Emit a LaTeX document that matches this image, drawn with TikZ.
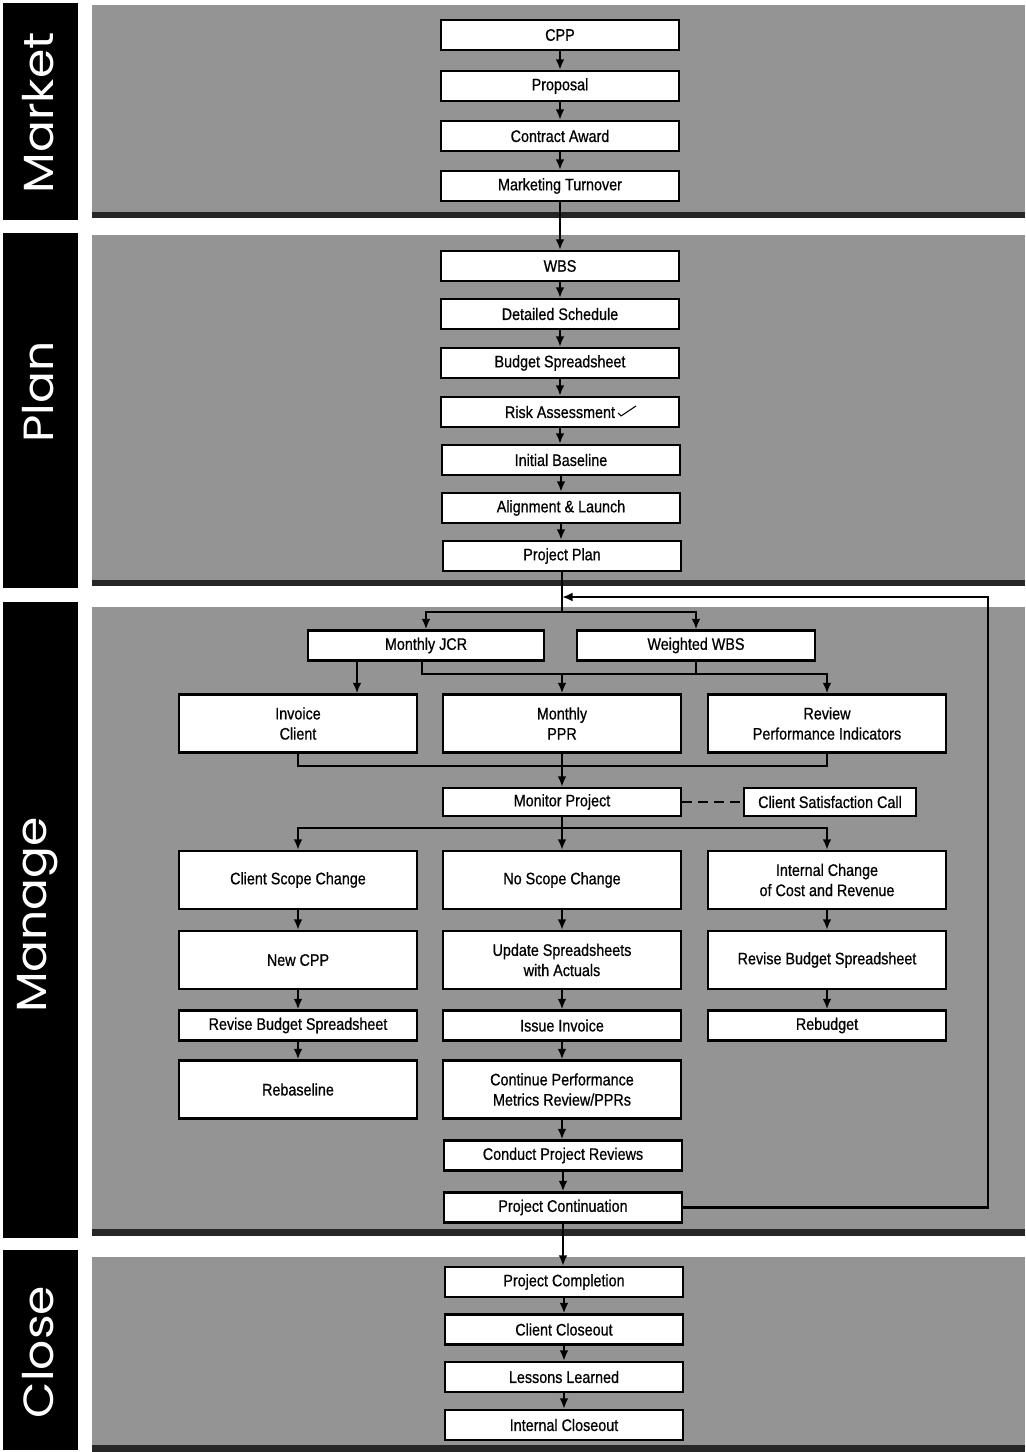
\documentclass[tikz,border=0pt]{standalone}
\usepackage{fontspec}
\setmainfont{Liberation Sans}[FakeStretch=0.86]
\newfontfamily\boxfont{Liberation Sans}[FakeStretch=0.86, FakeBold=0.7]
\newfontfamily\tagfont{Poppins}[FakeStretch=1.12]
\usetikzlibrary{arrows.meta}

\tikzset{
  box/.style={draw, line width=1.3pt, fill=white, minimum width=4.76cm, minimum height=0.6cm,
    inner sep=1pt, align=center, font=\boxfont\fontsize{9.5}{11.5}\selectfont},
  tallbox/.style={box, minimum height=1.16cm},
  panel/.style={fill=black!42},
  rim/.style={fill=black!85},
  tag/.style={fill=black},
  tagtext/.style={rotate=90, text=white, inner sep=0pt, font=\tagfont\fontsize{24}{24}\selectfont},
  wire/.style={line width=1.3pt},
  arr/.style={wire, -{Latex[length=6pt,width=5pt]}}
}

\begin{document}
\begin{tikzpicture}[x=0.02cm, y=-0.02cm]
\useasboundingbox (0,0) rectangle (1025,1452);
% draws bands
\fill[panel] (92,5) rectangle (1025,218);
\fill[rim] (92,212) rectangle (1025,218);
\fill[panel] (92,235) rectangle (1025,586);
\fill[rim] (92,580) rectangle (1025,586);
\fill[panel] (92,607) rectangle (1025,1236);
\fill[rim] (92,1229) rectangle (1025,1236);
\fill[panel] (92,1257) rectangle (1025,1452);
\fill[rim] (92,1445) rectangle (1025,1452);
% draws phase tags
\fill[tag] (3,3) rectangle (78,220);
\fill[tag] (3,233) rectangle (78,588);
\fill[tag] (3,602) rectangle (78,1238);
\fill[tag] (3,1250) rectangle (78,1450);
\node[tagtext] (tmarket) at (38,113) {Market};
\node[tagtext] (tplan) at (38,392) {Plan};
\node[tagtext] (tmanage) at (38,915) {Manage};
\node[tagtext] (tclose) at (38,1352) {Close};
% market
\node[box] (cpp) at (560,35) {CPP};
\node[box] (prop) at (560,86) {Proposal};
\node[box] (award) at (560,136) {Contract Award};
\node[box] (turn) at (560,186) {Marketing Turnover};
% plan
\node[box] (wbs) at (560,266) {WBS};
\node[box] (sched) at (560,314) {Detailed Schedule};
\node[box] (budget) at (560,363) {Budget Spreadsheet};
\node[box] (risk) at (560,412) {Risk Assessment};
\node[box] (base) at (561,460) {Initial Baseline};
\node[box] (launch) at (561,508) {Alignment \& Launch};
\node[box] (plan) at (562,556) {Project Plan};
\draw[line width=0.6pt] (618,413) -- (621,416) -- (636,406);
% manage
\node[box, minimum width=4.72cm] (jcr) at (426,645.5) {Monthly JCR};
\node[box] (wwbs) at (696,645.5) {Weighted WBS};
\node[tallbox] (inv) at (298,723.5) {Invoice\\Client};
\node[tallbox] (ppr) at (562,723.5) {Monthly\\PPR};
\node[tallbox] (rpi) at (827,723.5) {Review\\Performance Indicators};
\node[box, minimum height=0.56cm] (mon) at (562,802) {Monitor Project};
\node[box, minimum width=3.44cm, minimum height=0.56cm] (sat) at (830,802) {Client Satisfaction Call};
\node[tallbox] (csc) at (298,880) {Client Scope Change};
\node[tallbox] (nsc) at (562,880) {No Scope Change};
\node[tallbox] (icc) at (827,880) {Internal Change\\of Cost and Revenue};
\node[tallbox] (ncpp) at (298,960) {New CPP};
\node[tallbox] (upd) at (562,960) {Update Spreadsheets\\with Actuals};
\node[tallbox] (rbsr) at (827,960) {Revise Budget Spreadsheet};
\node[box] (rbsl) at (298,1025.5) {Revise Budget Spreadsheet};
\node[box] (issue) at (562,1025.5) {Issue Invoice};
\node[box] (rebud) at (827,1025.5) {Rebudget};
\node[tallbox] (rebase) at (298,1089.5) {Rebaseline};
\node[tallbox] (cont) at (562,1089.5) {Continue Performance\\Metrics Review/PPRs};
\node[box] (review) at (563,1155.5) {Conduct Project Reviews};
\node[box] (pcont) at (563,1207.5) {Project Continuation};
% close
\node[box] (pcomp) at (564,1282) {Project Completion};
\node[box] (cclose) at (564,1329.5) {Client Closeout};
\node[box] (lessons) at (564,1377) {Lessons Learned};
\node[box] (iclose) at (564,1425) {Internal Closeout};
% helper points
\coordinate (loop) at (988,597);
\coordinate (merge) at (562,597);
\coordinate (fork) at (562,612);
\coordinate (tap) at (357,0);
\coordinate (bus1) at (422,674);
\coordinate (bus2) at (298,766);
\coordinate (bus3) at (562,828);
% draws market and plan chain
\draw[arr] (cpp.south) -- (cpp.south |- prop.north);
\draw[arr] (prop.south) -- (prop.south |- award.north);
\draw[arr] (award.south) -- (award.south |- turn.north);
\draw[arr] (turn.south) -- (turn.south |- wbs.north);
\draw[arr] (wbs.south) -- (wbs.south |- sched.north);
\draw[arr] (sched.south) -- (sched.south |- budget.north);
\draw[arr] (budget.south) -- (budget.south |- risk.north);
\draw[arr] (risk.south) -- (risk.south |- base.north);
\draw[arr] (base.south) -- (base.south |- launch.north);
\draw[arr] (launch.south) -- (launch.south |- plan.north);
% draws monthly loop
\draw[wire] (plan.south) -- (fork);
\draw[arr] (fork) -| (jcr.north);
\draw[arr] (fork) -| (wwbs.north);
\draw[arr] (pcont.east) -| (loop) -- (merge);
\draw[arr] (jcr.south -| tap) -- (inv.north -| tap);
\draw[arr] (jcr.south -| bus1) |- (rpi.north |- bus1) -- (rpi.north);
\draw[wire] (wwbs.south) -- (wwbs.south |- bus1);
\draw[arr] (ppr.north |- bus1) -- (ppr.north);
\draw[wire] (inv.south) |- (rpi.south |- bus2) -- (rpi.south);
\draw[arr] (ppr.south) -- (mon.north);
\draw[wire, dash pattern=on 0.2cm off 0.12cm] (mon.east) -- (sat.west);
\draw[wire] (mon.south) -- (bus3);
\draw[arr] (bus3) -| (csc.north);
\draw[arr] (bus3) -- (nsc.north);
\draw[arr] (bus3) -| (icc.north);
% draws columns
\draw[arr] (csc) -- (ncpp);
\draw[arr] (ncpp) -- (rbsl);
\draw[arr] (rbsl) -- (rebase);
\draw[arr] (nsc) -- (upd);
\draw[arr] (upd) -- (issue);
\draw[arr] (issue) -- (cont);
\draw[arr] (cont.south) -- (cont.south |- review.north);
\draw[arr] (review) -- (pcont);
\draw[arr] (icc) -- (rbsr);
\draw[arr] (rbsr) -- (rebud);
% draws close chain
\draw[arr] (pcont.south) -- (pcont.south |- pcomp.north);
\draw[arr] (pcomp.south) -- (pcomp.south |- cclose.north);
\draw[arr] (cclose.south) -- (cclose.south |- lessons.north);
\draw[arr] (lessons.south) -- (lessons.south |- iclose.north);
\end{tikzpicture}
\end{document}
